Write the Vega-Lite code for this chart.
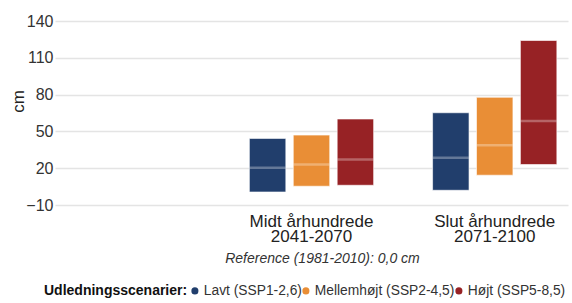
{
  "$schema": "https://vega.github.io/schema/vega-lite/v6.json",
  "width": 513,
  "height": 184,
  "autosize": {"type": "none"},
  "padding": {"left": 55, "top": 21, "right": 4, "bottom": 98},
  "background": "white",
  "config": {
    "view": {"stroke": null},
    "font": "Liberation Sans"
  },
  "data": {
    "values": [
      {"period": "Midt århundrede|2041-2070", "scenario": "Lavt (SSP1-2,6)", "low": 0.6, "high": 44.3, "median": 20.3},
      {"period": "Midt århundrede|2041-2070", "scenario": "Mellemhøjt (SSP2-4,5)", "low": 5.3, "high": 47.0, "median": 23.0},
      {"period": "Midt århundrede|2041-2070", "scenario": "Højt (SSP5-8,5)", "low": 6.1, "high": 60.1, "median": 27.1},
      {"period": "Slut århundrede|2071-2100", "scenario": "Lavt (SSP1-2,6)", "low": 2.0, "high": 65.2, "median": 28.5},
      {"period": "Slut århundrede|2071-2100", "scenario": "Mellemhøjt (SSP2-4,5)", "low": 14.3, "high": 77.8, "median": 38.8},
      {"period": "Slut århundrede|2071-2100", "scenario": "Højt (SSP5-8,5)", "low": 23.0, "high": 124.1, "median": 58.4}
    ]
  },
  "encoding": {
    "x": {
      "field": "period",
      "type": "nominal",
      "scale": {"domain": ["0", "Midt århundrede|2041-2070", "Slut århundrede|2071-2100"], "paddingInner": 0.2, "paddingOuter": 0},
      "axis": {
        "title": "Reference (1981-2010): 0,0 cm",
        "titleFontSize": 14,
        "titleFontStyle": "italic",
        "titleFontWeight": "normal",
        "titleColor": "#333333",
        "titleX": 267,
        "titleY": 57,
        "titleAlign": "center",
        "titleBaseline": "alphabetic",
        "labelExpr": "datum.value == '0' ? '' : split(datum.value, '|')",
        "labelFontSize": 17,
        "labelLineHeight": 15,
        "labelColor": "#222222",
        "labelAngle": 0,
        "labelBaseline": "top",
        "labelPadding": 8,
        "labelOverlap": false,
        "ticks": false,
        "tickSize": 0,
        "domain": false,
        "grid": false
      }
    }
  },
  "layer": [
    {
      "mark": {"type": "rule", "color": "#a8a8a8", "strokeWidth": 1.5},
      "encoding": {"y": {"datum": 0, "type": "quantitative", "scale": {"domain": [-10, 140], "nice": false, "zero": false}}}
    },
    {
      "mark": {"type": "bar", "stroke": "white", "strokeOpacity": 0.6, "strokeWidth": 1},
      "encoding": {
        "xOffset": {
          "field": "scenario",
          "type": "nominal",
          "scale": {"domain": ["Lavt (SSP1-2,6)", "Mellemhøjt (SSP2-4,5)", "Højt (SSP5-8,5)"], "paddingInner": 0.17, "paddingOuter": 0.254}
        },
        "y": {
          "field": "low",
          "type": "quantitative",
          "scale": {"domain": [-10, 140], "nice": false, "zero": false},
          "axis": {
            "values": [-10, 20, 50, 80, 110, 140],
            "tickCount": 6,
            "title": "cm",
            "titleFontSize": 17,
            "titleFontWeight": "normal",
            "titleColor": "#222222",
            "titleAngle": -90,
            "titleX": -32,
            "titleY": 80,
            "titleAlign": "center",
            "titleBaseline": "alphabetic",
            "labelFontSize": 16,
            "labelColor": "#333333",
            "labelPadding": 2,
            "labelOverlap": false,
            "labelFlush": false,
            "ticks": false,
            "tickSize": 0,
            "domain": false,
            "grid": true,
            "gridColor": "#e4e4e4",
            "gridWidth": 1.5
          }
        },
        "y2": {"field": "high"},
        "color": {
          "field": "scenario",
          "type": "nominal",
          "scale": {"domain": ["Lavt (SSP1-2,6)", "Mellemhøjt (SSP2-4,5)", "Højt (SSP5-8,5)"], "range": ["#213e6c", "#e98e36", "#972225"]},
          "legend": {
            "title": "Udledningsscenarier:",
            "orient": "none",
            "direction": "horizontal",
            "legendX": -11,
            "legendY": 263,
            "titleOrient": "left",
            "titleFontSize": 14,
            "titleFontWeight": "bold",
            "titleColor": "#111111",
            "titlePadding": 0,
            "labelFontSize": 13.8,
            "labelColor": "#333333",
            "labelOffset": 2,
            "columnPadding": -3,
            "gridAlign": "none",
            "symbolType": "circle",
            "symbolSize": 50,
            "symbolStrokeWidth": 0,
            "symbolOpacity": 1
          }
        }
      }
    },
    {
      "mark": {"type": "tick", "color": "white", "opacity": 0.3, "thickness": 2.5, "size": 36, "orient": "horizontal"},
      "encoding": {
        "xOffset": {"field": "scenario", "type": "nominal"},
        "y": {"field": "median", "type": "quantitative"}
      }
    }
  ]
}
